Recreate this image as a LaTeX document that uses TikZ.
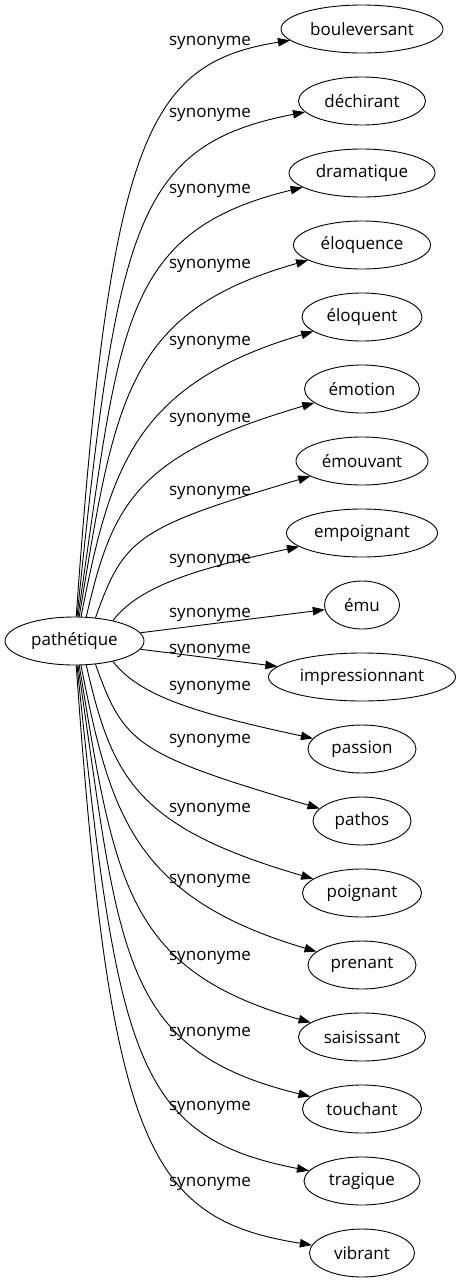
\documentclass[tikz,border=0pt]{standalone}
\usepackage{fontspec}
\setmainfont{Open Sans}
\usetikzlibrary{shapes.geometric,arrows.meta}
\begin{document}
\begin{tikzpicture}[x=1pt,y=-1pt,
  word/.style={draw,ellipse,inner sep=0pt,minimum height=48pt,line width=0.9pt,font=\fontsize{17}{20}\selectfont},
  lab/.style={anchor=base,inner sep=0pt,font=\fontsize{17}{20}\selectfont},
  link/.style={line width=0.9pt,-{Triangle[length=12pt,width=8.5pt]}}]
\useasboundingbox (0,0) rectangle (461,1283);
\node[word,minimum width=139pt] (p) at (74.5,641) {pathétique};
\node[word,minimum width=162pt] (t1) at (362,29) {bouleversant};
\node[word,minimum width=127pt] (t2) at (362,101) {déchirant};
\node[word,minimum width=146pt] (t3) at (362,173) {dramatique};
\node[word,minimum width=137pt] (t4) at (362,245) {éloquence};
\node[word,minimum width=120pt] (t5) at (362,317) {éloquent};
\node[word,minimum width=115pt] (t6) at (362,389) {émotion};
\node[word,minimum width=132pt] (t7) at (362,461) {émouvant};
\node[word,minimum width=151pt] (t8) at (362,533) {empoignant};
\node[word,minimum width=75pt] (t9) at (362,605) {ému};
\node[word,minimum width=187pt] (t10) at (362,677) {impressionnant};
\node[word,minimum width=108pt] (t11) at (362,749) {passion};
\node[word,minimum width=98pt] (t12) at (362,821) {pathos};
\node[word,minimum width=119pt] (t13) at (362,893) {poignant};
\node[word,minimum width=108pt] (t14) at (362,965) {prenant};
\node[word,minimum width=127pt] (t15) at (362,1037) {saisissant};
\node[word,minimum width=119pt] (t16) at (362,1109) {touchant};
\node[word,minimum width=116pt] (t17) at (362,1181) {tragique};
\node[word,minimum width=105pt] (t18) at (362,1253) {vibrant};
% labels
\node[lab] (l1) at (210,45) {synonyme};
\node[lab] (l2) at (210,117) {synonyme};
\node[lab] (l3) at (210,193) {synonyme};
\node[lab] (l4) at (210,268) {synonyme};
\node[lab] (l5) at (210,345) {synonyme};
\node[lab] (l6) at (210,422) {synonyme};
\node[lab] (l7) at (210,495) {synonyme};
\node[lab] (l8) at (210,563) {synonyme};
\node[lab] (l9) at (210,617) {synonyme};
\node[lab] (l10) at (210,653) {synonyme};
\node[lab] (l11) at (210,690) {synonyme};
\node[lab] (l12) at (210,743) {synonyme};
\node[lab] (l13) at (210,812) {synonyme};
\node[lab] (l14) at (210,883) {synonyme};
\node[lab] (l15) at (210,960) {synonyme};
\node[lab] (l16) at (210,1036) {synonyme};
\node[lab] (l17) at (210,1110) {synonyme};
\node[lab] (l18) at (210,1186) {synonyme};
% edges, upper
\draw[link] (p.86) .. controls (110,138) and (147,63) .. (t1);
\draw[link] (p.84) .. controls (117,225) and (135,145) .. (t2);
\draw[link] (p.82) .. controls (120,330) and (118,232) .. (t3);
\draw[link] (p.79) .. controls (115,400) and (125,312) .. (t4);
\draw[link] (p.75) .. controls (110,470) and (132,385) .. (t5);
\draw[link] (p.64) .. controls (112,505) and (135,455) .. (t6);
\draw[link] (p.48) .. controls (124,538) and (135,528) .. (t7);
\draw[link] (p.28) .. controls (140,585) and (200,568) .. (t8);
\draw[link] (p) -- (t9);
\draw[link] (p) -- (t10);
% edges, lower
\draw[link] (p.-28) .. controls (140,697) and (200,714) .. (t11);
\draw[link] (p.-48) .. controls (124,744) and (135,754) .. (t12);
\draw[link] (p.-64) .. controls (112,777) and (135,827) .. (t13);
\draw[link] (p.-75) .. controls (110,812) and (132,897) .. (t14);
\draw[link] (p.-79) .. controls (115,882) and (125,970) .. (t15);
\draw[link] (p.-82) .. controls (120,952) and (118,1050) .. (t16);
\draw[link] (p.-84) .. controls (117,1057) and (135,1137) .. (t17);
\draw[link] (p.-86) .. controls (110,1144) and (147,1219) .. (t18);
\end{tikzpicture}
\end{document}
